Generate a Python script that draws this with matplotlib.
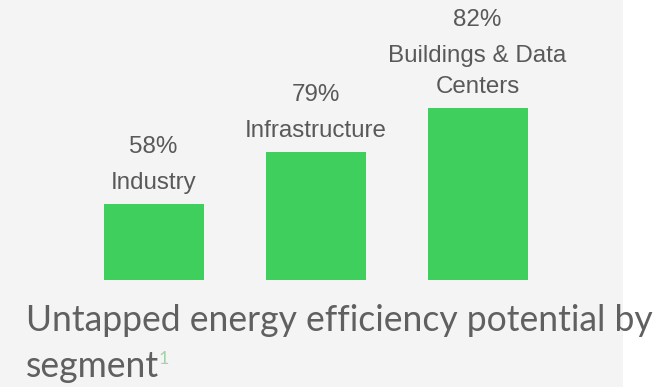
import matplotlib
matplotlib.use("Agg")
import matplotlib.pyplot as plt
from matplotlib.patches import Rectangle

categories = ["Industry", "Infrastructure", "Buildings & Data\nCenters"]
percent_labels = ["58%", "79%", "82%"]
bar_heights = [76, 128, 172]  # visual bar heights
title_lines = ["Untapped energy efficiency potential by", "segment"]
footnote = "1"

W, H = 669, 387
fig = plt.figure(figsize=(W / 100, H / 100), dpi=100, facecolor="white")
fig.patches.append(Rectangle((0, 0), 623 / W, 1, transform=fig.transFigure,
                             facecolor="#f4f4f4", edgecolor="none", zorder=-10))

ax = fig.add_axes([0, (H - 280) / H, 1, 280 / H])
ax.set_facecolor("none")
ax.axis("off")
step = 162
ax.set_xlim(-153.5 / step, (W - 153.5) / step)
ax.set_ylim(0, 280)

xs = list(range(len(categories)))
ax.bar(xs, bar_heights, width=100 / step, color="#3ecf5c", edgecolor="none")

txt = "#595959"
lab_font = dict(family=["Liberation Sans", "DejaVu Sans"], size=17.4, color=txt)
for x, h, cat, pct in zip(xs, bar_heights, categories, percent_labels):
    lines = cat.split("\n")
    off = 15
    for line in reversed(lines):
        ax.annotate(line, (x, h), xytext=(0, off * 0.72), textcoords="offset points",
                    ha="center", va="baseline", annotation_clip=False, **lab_font)
        off += 31
    off += 5
    ax.annotate(pct, (x, h), xytext=(0, off * 0.72), textcoords="offset points",
                ha="center", va="baseline", annotation_clip=False, **lab_font)

title_font = dict(family=["Lato", "DejaVu Sans"], size=25.6, color="#606060")
fig.text(26 / W, 1 - 331 / H, title_lines[0], ha="left", va="baseline", **title_font)
seg = fig.text(26 / W, 1 - 377 / H, title_lines[1], ha="left", va="baseline", **title_font)
fig.canvas.draw()
bb = seg.get_window_extent()
fig.text((bb.x1 - 1) / W, (H - 364) / H, footnote, ha="left", va="baseline",
         family=["Lato", "DejaVu Sans"], size=13, color="#a3d3a8")

fig.savefig("out.png", dpi=100, facecolor="white")
